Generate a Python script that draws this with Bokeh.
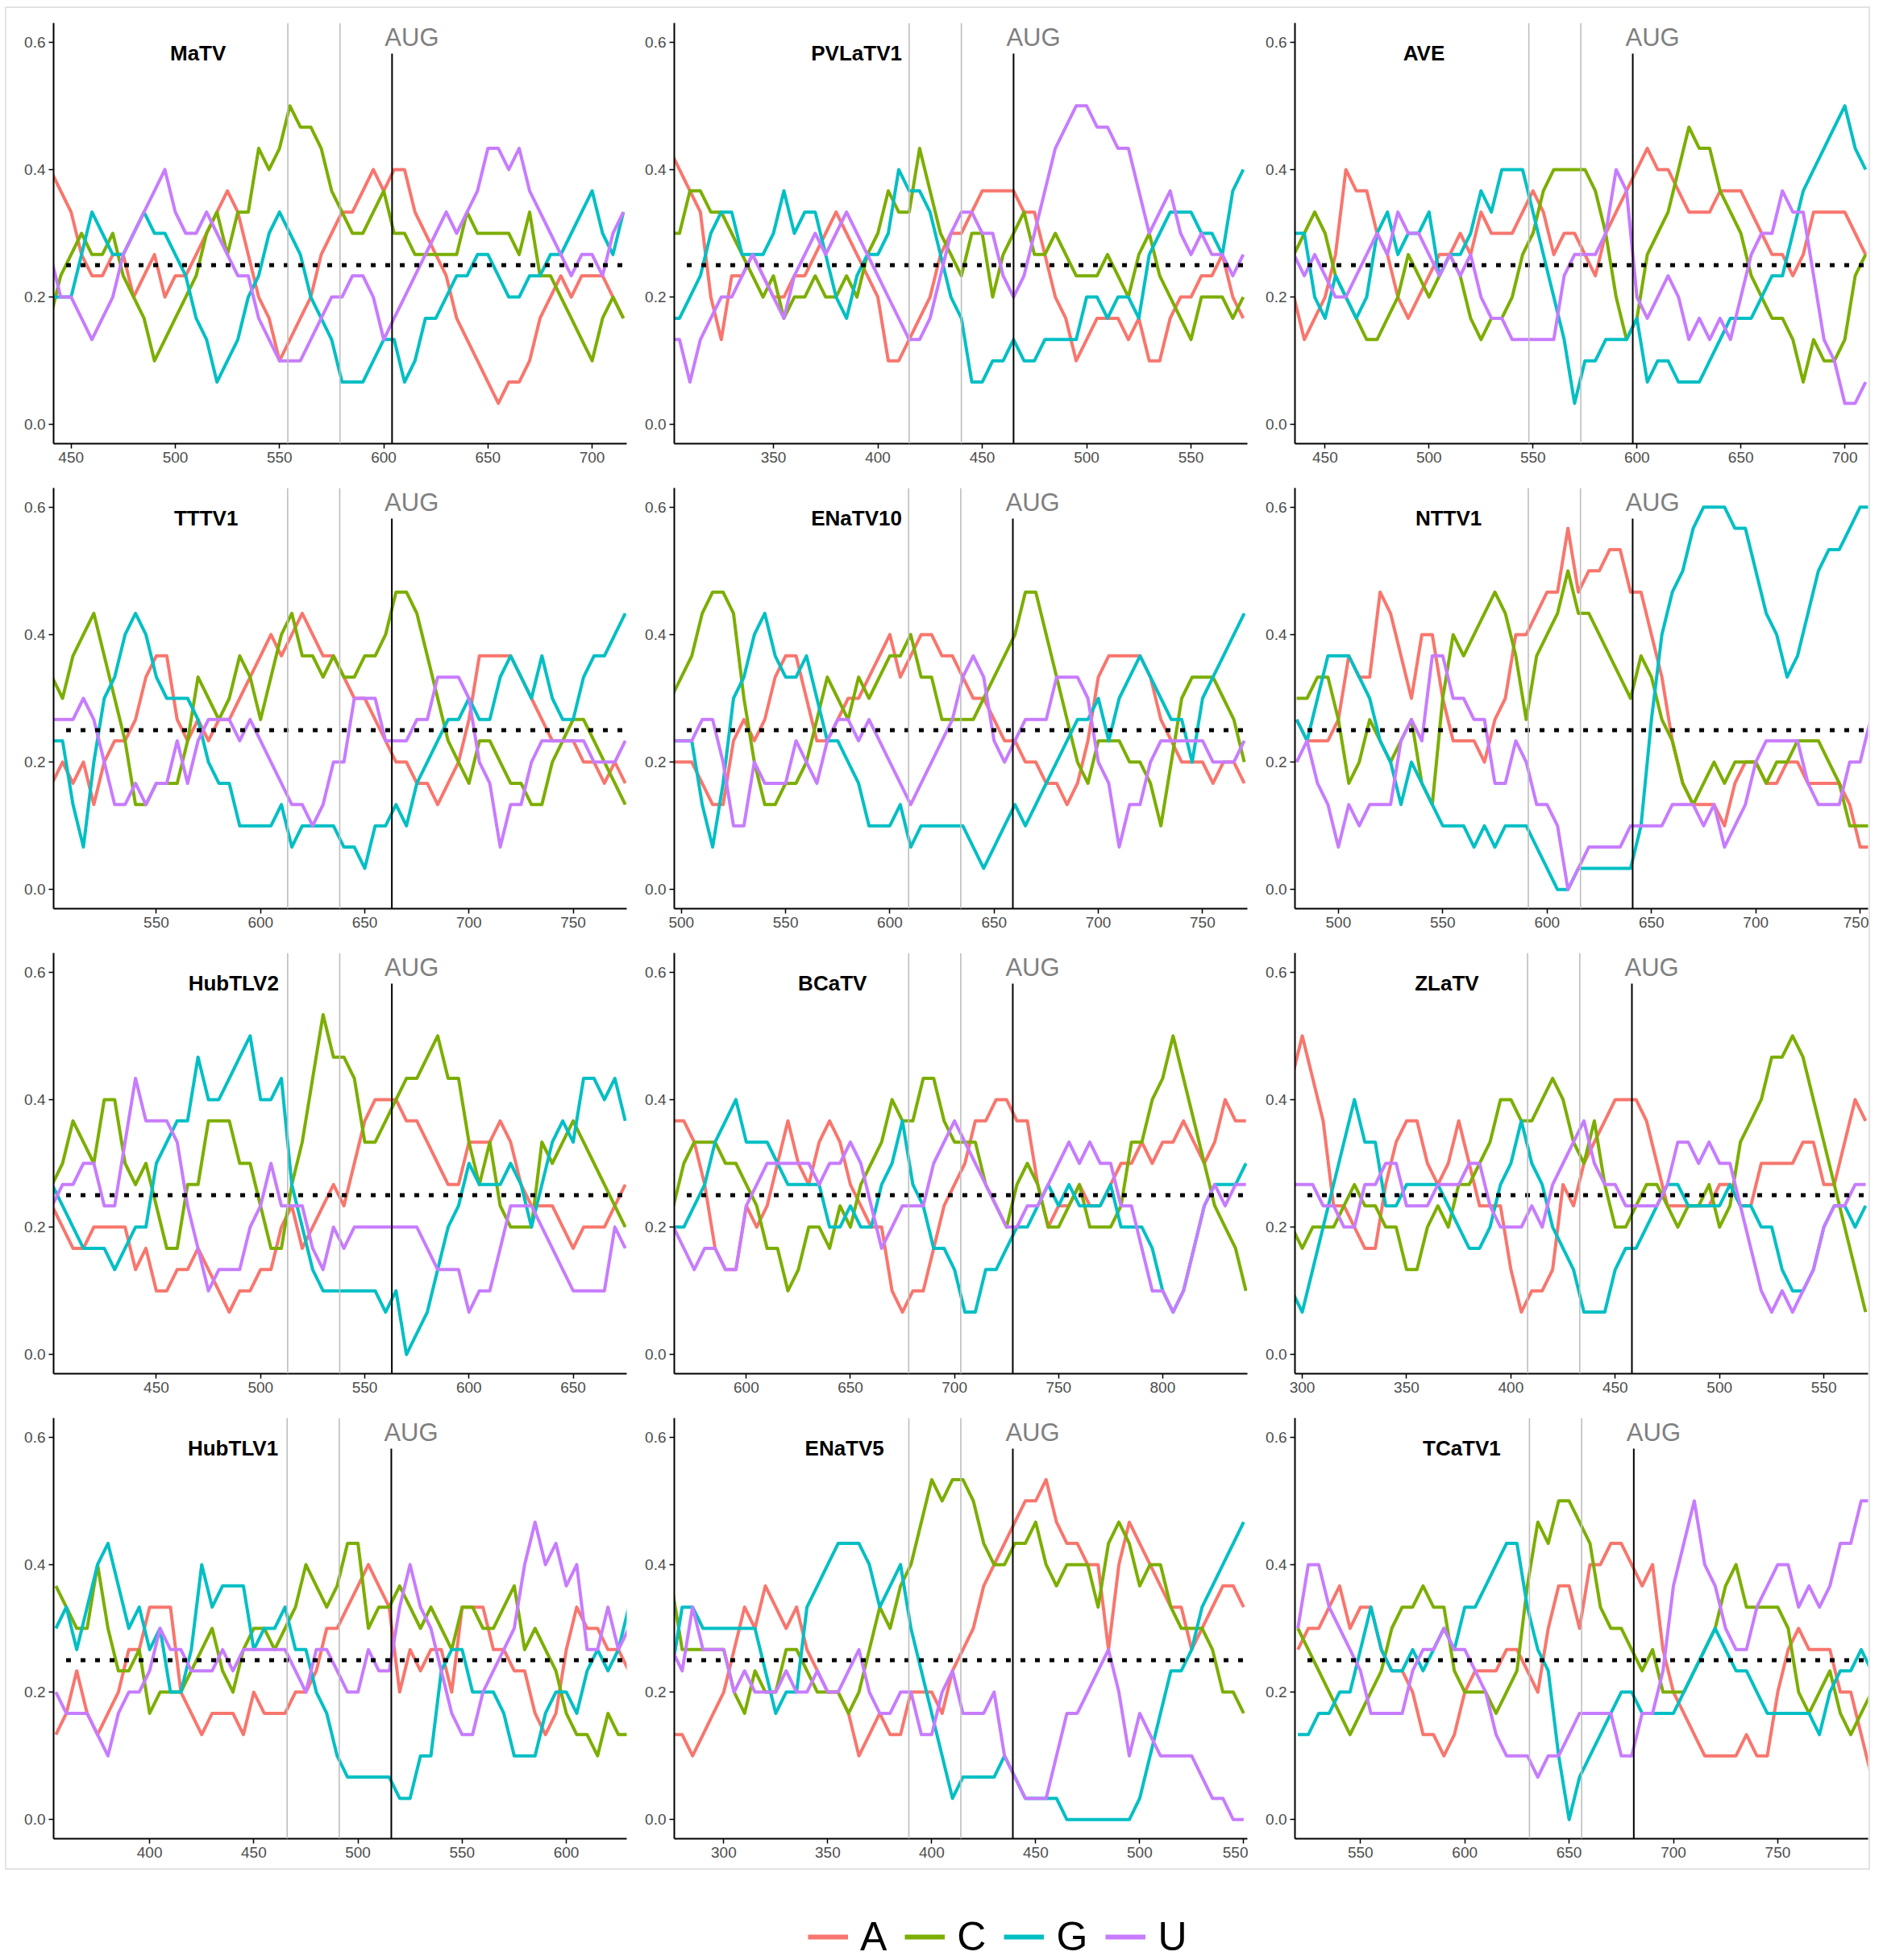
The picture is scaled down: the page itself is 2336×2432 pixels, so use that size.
import numpy as np
from bokeh.plotting import figure
from bokeh.layouts import gridplot, column, row
from bokeh.models import Range1d, Span, Label, Legend, LegendItem, FixedTicker, PrintfTickFormatter, Spacer
from bokeh.embed import file_html
from bokeh.resources import INLINE

# Sliding-window nucleotide counts (window of 30 nt), sampled every 5 nt.
WINDOW = 30
STEP = 5
NUCS = ["A", "C", "G", "U"]

MaTV_A = [12,11,10,8,7,7,8,8,6,7, 8,6,7,7,8,9,10,11,10,8, 6,5,3,4,5,6,8,9,10,10, 11,12,11,12,12,10,9,8,7,5, 4,3,2,1,2,2,3,5,6,7, 6,7,7,7,6,5]
MaTV_C = [5,7,8,9,8,8,9,7,6,5, 3,4,5,6,7,9,10,8,10,10, 13,12,13,15,14,14,13,11,10,9, 9,10,11,9,9,8,8,8,8,8, 10,9,9,9,9,8,10,7,7,6, 5,4,3,5,6,5]
MaTV_G = [6,6,6,8,10,9,8,8,9,10, 9,9,8,7,5,4,2,3,4,6, 7,9,10,9,8,6,5,4,2,2, 2,3,4,4,2,3,5,5,6,7, 7,8,8,7,6,6,7,7,8,8, 9,10,11,9,8,10]
MaTV_U = [8,6,6,5,4,5,6,8,9,10, 11,12,10,9,9,10,9,8,7,7, 5,4,3,3,3,4,5,6,6,7, 7,6,4,5,6,7,8,9,10,9, 10,11,13,13,12,13,11,10,9,8, 7,8,8,7,9,10]

PVLaTV1_A = [13,12,11,10,6,4,7,7,8,7, 6,6,7,7,8,9,10,9,8,7, 6,3,3,4,5,6,8,9,9,10, 11,11,11,11,10,10,8,6,5,3, 4,5,5,5,4,5,3,3,5,6, 6,7,7,8,6,5]
PVLaTV1_C = [9,9,11,11,10,10,9,8,7,6, 7,5,6,6,7,6,6,7,6,8, 9,11,10,10,13,11,9,8,7,9, 9,6,8,9,10,8,8,9,8,7, 7,7,8,7,6,8,9,7,6,5, 4,6,6,6,5,6]
PVLaTV1_G = [5,5,6,7,9,10,10,8,8,8, 9,11,9,10,10,8,6,5,7,8, 8,9,12,11,11,10,8,6,5,2, 2,3,3,4,3,3,4,4,4,4, 6,6,5,6,6,5,8,9,10,10, 10,9,9,8,11,12]
PVLaTV1_U = [4,4,2,4,5,6,6,7,8,7, 6,5,7,8,9,8,9,10,9,8, 7,6,5,4,4,5,7,9,10,10, 9,9,7,6,7,9,11,13,14,15, 15,14,14,13,13,11,9,10,11,9, 8,9,8,8,7,8]

AVE_A = [6,4,5,6,8,12,11,11,9,8, 6,5,6,7,8,8,9,8,10,9, 9,9,10,11,10,8,9,9,8,7, 9,10,11,12,13,12,12,11,10,10, 10,11,11,11,10,9,8,8,7,8, 10,10,10,10,9,8]
AVE_C = [8,9,10,9,7,6,5,4,4,5, 6,8,7,6,7,8,7,5,4,5, 5,6,8,9,11,12,12,12,12,11, 9,6,4,5,8,9,10,12,14,13, 13,11,10,9,7,6,5,5,4,2, 4,3,3,4,7,8]
AVE_G = [9,9,6,5,7,6,5,6,9,10, 8,9,9,10,7,8,8,9,11,10, 12,12,12,10,8,6,4,1,3,3, 4,4,4,5,2,3,3,2,2,2, 3,4,5,5,5,6,7,7,9,11, 12,13,14,15,13,12]
AVE_U = [8,7,8,7,6,6,7,8,9,8, 10,9,9,8,7,8,7,8,6,5, 5,4,4,4,4,4,7,8,8,8, 9,12,11,6,5,6,7,6,4,5, 4,5,4,6,8,9,9,11,10,10, 7,4,3,1,1,2]

TTTV1_A = [5,6,5,6,4,6,7,7,8,10, 11,11,8,7,8,7,8,8,9,10, 11,12,11,12,13,12,11,11,10,9, 9,8,7,6,6,5,5,4,5,6, 8,11,11,11,11,10,9,8,7,7, 7,6,6,5,6,5]
TTTV1_C = [10,9,11,12,13,11,9,7,4,4, 5,5,5,7,10,9,8,9,11,10, 8,10,12,13,11,11,10,11,10,10, 11,11,12,14,14,13,11,9,7,6, 5,7,7,6,5,5,4,4,6,7, 8,8,7,6,5,4]
TTTV1_G = [7,7,4,2,6,9,10,12,13,12, 10,9,9,9,8,6,5,5,3,3, 3,3,4,2,3,3,3,3,2,2, 1,3,3,4,3,5,6,7,8,8, 9,8,8,10,11,10,9,11,9,8, 8,10,11,11,12,13]
TTTV1_U = [8,8,8,9,8,6,4,4,5,4, 5,5,7,5,7,8,8,8,7,8, 7,6,5,4,4,3,4,6,6,9, 9,9,7,7,7,8,8,10,10,10, 9,6,5,2,4,4,6,7,7,7, 7,7,6,6,6,7]

ENaTV10_A = [6,6,6,5,4,4,7,8,7,8, 10,11,11,9,7,7,8,9,9,10, 11,12,10,11,12,12,11,11,10,9, 9,8,7,7,6,6,5,5,4,5, 7,10,11,11,11,11,10,8,7,6, 6,6,5,6,6,5]
ENaTV10_C = [9,10,11,13,14,14,13,9,6,4, 4,5,5,6,8,10,9,8,10,9, 10,11,11,12,10,10,8,8,8,8, 9,10,11,12,14,14,12,10,8,6, 5,7,7,7,6,6,5,3,6,9, 10,10,10,9,8,6]
ENaTV10_G = [7,7,7,4,2,5,9,10,12,13, 11,10,10,11,9,7,7,6,5,3, 3,3,4,2,3,3,3,3,3,2, 1,2,3,4,3,4,5,6,7,8, 8,9,7,9,10,11,10,9,8,8, 6,9,10,11,12,13]
ENaTV10_U = [7,7,7,8,8,6,3,3,6,5, 5,5,7,6,5,7,8,8,7,8, 7,6,5,4,5,6,7,8,10,11, 10,7,6,7,8,8,8,10,10,10, 9,6,5,2,4,4,6,7,7,7, 7,7,6,6,6,7]

NTTV1_A = [8,7,7,7,8,11,10,10,14,13, 11,9,12,12,9,7,7,7,6,8, 9,12,12,13,14,14,17,14,15,15, 16,16,14,14,12,10,7,5,4,4, 4,3,5,6,6,5,5,6,6,5, 5,5,5,4,2,2]
NTTV1_C = [9,9,10,10,8,5,6,8,7,6, 7,8,5,4,9,12,11,12,13,14, 13,11,8,11,12,13,15,13,13,12, 11,10,9,11,10,8,7,5,4,5, 6,5,6,6,6,5,6,6,7,7, 7,6,5,3,3,3]
NTTV1_G = [8,7,9,11,11,11,10,9,7,6, 4,6,5,4,3,3,3,2,3,2, 3,3,3,2,1,0,0,1,1,1, 1,1,1,3,8,12,14,15,17,18, 18,18,17,17,15,13,12,10,11,13, 15,16,16,17,18,18]
NTTV1_U = [6,7,5,4,2,4,3,4,4,4, 7,8,7,11,11,9,9,8,8,5, 5,7,6,4,4,3,0,1,2,2, 2,2,3,3,3,3,4,4,4,3, 4,2,3,4,6,7,7,7,7,5, 4,4,4,6,6,8]

HubTLV2_A = [7,6,5,5,6,6,6,6,4,5, 3,3,4,4,5,4,3,2,3,3, 4,4,6,7,5,6,7,8,7,9, 11,12,12,12,11,11,10,9,8,8, 10,10,10,11,10,8,7,7,7,6, 5,6,6,6,7,8]
HubTLV2_C = [8,9,11,10,9,12,12,9,8,9, 7,5,5,8,8,11,11,11,9,9, 7,5,5,8,10,13,16,14,14,13, 10,10,11,12,13,13,14,15,13,13, 10,8,10,7,6,6,6,10,9,10, 11,10,9,8,7,6]
HubTLV2_G = [8,7,6,5,5,5,4,5,6,6, 9,10,11,11,14,12,12,13,14,15, 12,12,13,8,6,4,3,3,3,3, 3,3,2,3,0,1,2,4,6,7, 9,8,8,8,9,8,6,8,10,11, 10,13,13,12,13,11]
HubTLV2_U = [7,8,8,9,9,7,7,10,13,11, 11,11,10,7,5,3,4,4,4,6, 7,9,7,7,7,5,4,6,5,6, 6,6,6,6,6,6,5,4,4,4, 2,3,3,5,7,7,7,6,5,4, 3,3,3,3,6,5]

BCaTV_A = [11,11,10,8,5,4,4,7,6,7, 9,11,9,8,10,11,10,8,7,6, 6,3,2,3,3,5,7,8,9,11, 11,12,12,11,11,8,6,7,7,8, 7,7,8,9,9,10,9,10,10,11, 10,9,10,12,11,11]
BCaTV_C = [7,9,10,10,10,9,9,8,7,5, 5,3,4,6,6,5,7,6,8,9, 10,12,11,11,13,13,11,10,10,10, 8,7,6,8,9,8,6,6,7,8, 6,6,6,7,10,10,12,13,15,13, 11,9,7,6,5,3]
BCaTV_G = [6,6,7,8,10,11,12,10,10,10, 9,8,8,8,8,6,6,7,6,6, 8,9,11,8,7,5,5,4,2,2, 4,4,5,6,6,7,8,7,8,7, 7,7,8,6,6,6,5,3,2,3, 5,7,8,8,8,9]
BCaTV_U = [6,5,4,5,5,4,4,7,8,9, 9,9,9,9,8,9,9,10,9,7, 5,6,7,7,7,9,10,11,10,9, 8,7,6,6,7,7,8,9,10,9, 10,9,9,7,7,5,3,3,2,3, 5,7,8,7,8,8]

ZLaTV_A = [13,15,13,11,7,7,6,5,5,8, 10,11,11,9,8,9,11,9,7,7, 7,4,2,3,3,4,8,7,9,10, 11,12,12,12,11,9,7,7,7,7, 7,8,8,7,7,9,9,9,9,10, 10,8,8,10,12,11]
ZLaTV_C = [6,5,6,6,6,7,8,7,7,6, 6,4,4,6,7,6,8,8,9,10, 12,12,11,11,12,13,12,10,9,11, 8,6,6,7,8,8,7,6,7,7, 8,6,7,10,11,12,14,14,15,14, 12,10,8,6,4,2]
ZLaTV_G = [3,2,4,6,8,10,12,10,10,7, 7,8,8,8,8,7,6,5,5,6, 8,9,11,9,8,6,5,4,2,2, 2,4,5,5,6,7,8,8,7,7, 7,7,8,7,7,6,6,4,3,3, 4,6,7,7,6,7]
ZLaTV_U = [8,8,8,7,7,6,6,8,8,9, 9,7,7,7,8,8,8,9,9,7, 6,6,6,7,6,8,9,10,11,9, 8,8,7,7,7,7,8,10,10,9, 10,9,9,7,5,3,2,3,2,3, 4,6,7,7,8,8]

HubTLV1_A = [4,5,7,5,4,5,6,8,8,10, 10,10,6,5,4,5,5,5,4,6, 5,5,5,6,6,7,9,9,10,11, 12,11,10,6,8,7,8,8,6,10, 10,10,8,8,7,7,5,4,5,8, 10,9,9,8,8,7]
HubTLV1_C = [11,10,9,9,12,9,7,7,8,5, 6,6,6,7,8,9,7,6,8,9, 9,8,9,10,12,11,10,11,13,13, 9,10,10,11,10,9,10,9,8,10, 10,9,9,10,11,8,9,8,7,5, 4,4,3,5,4,4]
HubTLV1_G = [9,10,8,10,12,13,11,9,10,8, 9,6,6,8,12,10,11,11,11,8, 9,9,10,8,8,6,5,3,2,2, 2,2,2,1,1,3,3,7,8,8, 6,6,6,5,3,3,3,5,6,6, 5,7,8,7,8,10]
HubTLV1_U = [6,5,5,5,4,3,5,6,6,7, 9,8,8,7,7,7,8,7,8,8, 8,8,8,7,6,8,8,7,6,6, 8,7,7,10,12,10,9,7,5,4, 4,6,7,8,9,12,14,12,13,11, 12,8,8,10,8,9]

ENaTV5_A = [4,4,3,4,5,6,8,10,9,11, 10,9,10,8,7,6,6,5,3,4, 5,4,4,6,6,6,5,7,8,9, 11,12,13,14,15,15,16,14,13,13, 12,12,8,12,14,13,12,11,10,10, 8,9,10,11,11,10]
ENaTV5_C = [11,8,8,8,8,8,6,5,7,6, 6,8,8,7,6,6,6,5,6,8, 10,9,11,12,14,16,15,16,16,15, 13,12,12,13,13,14,12,11,12,12, 12,10,13,14,13,11,12,12,10,9, 9,9,8,6,6,5]
ENaTV5_G = [7,10,10,9,9,9,9,9,9,7, 5,6,6,10,11,12,13,13,13,12, 10,11,12,9,7,5,3,1,2,2, 2,2,3,2,1,1,1,1,0,0, 0,0,0,0,0,1,3,5,7,7, 8,10,11,12,13,14]
ENaTV5_U = [8,7,10,8,8,8,6,7,6,6, 6,7,6,6,7,6,6,7,8,6, 5,5,6,6,4,4,6,7,5,5, 5,6,3,2,1,1,1,3,5,5, 6,7,8,6,3,5,4,3,3,3, 3,2,1,1,0,0]

TCaTV1_A = [8,9,9,10,11,9,10,10,8,7, 7,6,4,4,3,4,6,7,7,7, 8,8,7,6,9,11,11,9,12,12, 13,13,12,11,12,8,6,5,4,3, 3,3,3,4,3,3,6,8,9,8, 8,8,6,6,4,2]
TCaTV1_C = [9,8,7,6,5,4,5,6,7,9, 10,10,11,10,10,7,6,6,6,5, 6,7,11,14,13,15,15,14,13,10, 9,9,8,7,8,6,6,6,7,8, 9,11,12,10,10,10,10,9,6,5, 6,7,5,4,5,6]
TCaTV1_G = [4,4,5,5,6,6,8,10,8,7, 7,8,7,8,9,8,10,10,11,12, 13,13,10,8,7,3,0,2,3,4, 5,6,6,5,5,5,5,6,7,8, 9,8,7,7,6,5,5,5,5,5, 4,6,7,7,8,7]
TCaTV1_U = [9,12,12,10,9,8,7,5,5,5, 5,7,8,8,9,8,8,7,6,4, 3,3,3,2,3,3,4,5,5,5, 5,3,3,5,5,7,11,13,15,12, 11,9,8,8,10,11,12,12,10,11, 10,11,13,13,15,15]

# Panel names, first sampled position, AUG position and the two upstream markers
names = ["MaTV", "PVLaTV1", "AVE", "TTTV1", "ENaTV10", "NTTV1",
         "HubTLV2", "BCaTV", "ZLaTV", "HubTLV1", "ENaTV5", "TCaTV1"]
x_start = [440, 300, 435, 500, 495, 480, 400, 565, 295, 355, 275, 520]
aug_pos = [604, 465, 598, 663, 659, 641, 563, 728, 458, 516, 439, 681]
mark1 = [554, 415, 548, 613, 609, 591, 513, 678, 408, 466, 389, 631]
mark2 = [579, 440, 573, 638, 634, 616, 538, 703, 433, 491, 414, 656]
xtick_labels = [
    [450, 500, 550, 600, 650, 700],
    [350, 400, 450, 500, 550],
    [450, 500, 550, 600, 650, 700],
    [550, 600, 650, 700, 750],
    [500, 550, 600, 650, 700, 750],
    [500, 550, 600, 650, 700, 750],
    [450, 500, 550, 600, 650],
    [600, 650, 700, 750, 800],
    [300, 350, 400, 450, 500, 550],
    [400, 450, 500, 550, 600],
    [300, 350, 400, 450, 500, 550],
    [550, 600, 650, 700, 750],
]
ytick_vals = [0.0, 0.2, 0.4, 0.6]

series = {n: {nt: globals()[f"{n}_{nt}"] for nt in NUCS} for n in names}

# layout (not data)
x_lo = [441.6, 302.5, 435.5, 500.7, 496.6, 479.2, 400.7, 565.4, 296.5, 353.9, 276.2, 518.6]
x_hi = [716.6, 577.0, 711.2, 775.7, 771.5, 753.8, 675.7, 840.7, 571.2, 629.0, 551.8, 793.3]
title_frac = [0.252, 0.318, 0.225, 0.266, 0.318, 0.268, 0.314, 0.276, 0.265, 0.313, 0.297, 0.291]

COLORS = {"A": "#F8766D", "C": "#7CAE00", "G": "#00BFC4", "U": "#C77CFF"}
FONT = "Liberation Sans"

figs = []
for i, name in enumerate(names):
    lo, hi = x_lo[i], x_hi[i]
    p = figure(frame_width=711, frame_height=522,
               min_border_left=58, min_border_right=1,
               min_border_top=18, min_border_bottom=37,
               x_range=Range1d(lo, hi), y_range=Range1d(-0.03, 0.63),
               output_backend="svg", toolbar_location=None)
    p.outline_line_color = None
    p.grid.visible = False
    for nt in NUCS:
        vals = np.array(series[name][nt], dtype=float) / WINDOW
        xs = x_start[i] + STEP * np.arange(len(vals))
        p.line(xs, vals, line_color=COLORS[nt], line_width=4, line_join="round")
    for m in (mark1[i], mark2[i]):
        p.add_layout(Span(location=m, dimension="height",
                          line_color="#BEBEBE", line_width=1.6))
    p.segment(x0=[aug_pos[i]], y0=[-0.03], x1=[aug_pos[i]], y1=[0.582],
              line_color="black", line_width=2)
    p.segment(x0=[lo + 6], y0=[0.25], x1=[hi - 2], y1=[0.25],
              line_color="black", line_width=5, line_dash="6 12", line_cap="butt")
    p.add_layout(Label(x=aug_pos[i] + 9.5, y=0.607, text="AUG", text_align="center",
                       text_baseline="middle", text_font=FONT, text_font_size="31px",
                       text_color="#7F7F7F"))
    p.add_layout(Label(x=lo + title_frac[i] * (hi - lo), y=0.582, text=name,
                       text_align="center", text_baseline="middle", text_font=FONT,
                       text_font_size="26px", text_font_style="bold", text_color="black"))
    p.xaxis.ticker = FixedTicker(ticks=xtick_labels[i])
    p.yaxis.ticker = FixedTicker(ticks=ytick_vals)
    p.yaxis.formatter = PrintfTickFormatter(format="%.1f")
    for ax in (p.xaxis[0], p.yaxis[0]):
        ax.axis_line_color = "black"
        ax.axis_line_width = 2
        ax.major_tick_line_color = "black"
        ax.major_tick_line_width = 1.5
        ax.major_tick_out = 6
        ax.major_tick_in = 0
        ax.minor_tick_line_color = None
        ax.major_label_text_font = FONT
        ax.major_label_text_font_size = "19px"
        ax.major_label_text_color = "#4D4D4D"
        ax.major_label_standoff = 4
    figs.append(p)

grid = gridplot(figs, ncols=3, toolbar_location=None)
framed = column(grid, styles={"border": "2px solid #E3E3E3"})

leg = figure(width=2310, height=100, x_range=Range1d(0, 1), y_range=Range1d(0, 1),
             output_backend="svg", toolbar_location=None,
             x_axis_location=None, y_axis_location=None, min_border=0)
leg.outline_line_color = None
leg.grid.visible = False
items = []
for nt in NUCS:
    r = leg.line([-2, -1], [-2, -2], line_color=COLORS[nt], line_width=6)
    items.append(LegendItem(label=nt, renderers=[r]))
legend = Legend(items=items, orientation="horizontal", location=(996, 0),
                glyph_width=50, glyph_height=48, label_height=48,
                label_standoff=15, spacing=22, padding=0, margin=0,
                label_text_font=FONT, label_text_font_size="50px",
                label_text_color="black", border_line_color=None,
                background_fill_alpha=0)
leg.add_layout(legend)

layout = row(Spacer(width=6),
             column(Spacer(height=8), framed, Spacer(height=12), leg))
open("out.html", "w").write(file_html(layout, INLINE))
